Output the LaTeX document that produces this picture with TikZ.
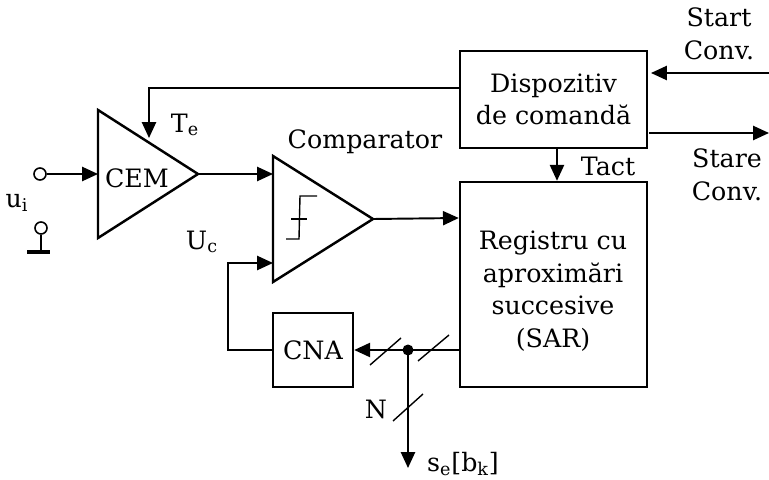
\documentclass[tikz,border=0pt]{standalone}
\usepackage{fontspec}
\setmainfont{DejaVu Serif}
\usetikzlibrary{arrows.meta,calc}

\begin{document}
\begin{tikzpicture}[x=0.02cm,y=-0.02cm,line cap=butt]
  % Styles
  \tikzset{
    block/.style={draw,line width=1.4pt,inner sep=0pt,align=center,font=\fontsize{14.4}{18.5}\selectfont},
    amp/.style={line width=1.4pt,line join=miter},
    sig/.style={line width=1.1pt,-{Triangle[length=9pt,width=8pt]}},
    wire/.style={line width=1.1pt},
    bus/.style={line width=0.8pt},
    label/.style={inner sep=0pt,align=center,font=\fontsize{14.4}{18.5}\selectfont}
  }
  \useasboundingbox (0,0) rectangle (769,480);

  % Blocks
  \node[block,minimum width=3.74cm,minimum height=1.94cm] (disp) at (553.5,99.5) {Dispozitiv\\de comandă};
  \node[block,minimum width=3.74cm,minimum height=4.1cm] (sar) at (553.5,284.5) {};
  \node[label] (sartext) at (553,291) {Registru cu\\aproximări\\succesive\\(SAR)};
  \node[block,minimum width=1.6cm,minimum height=1.48cm] (cna) at (313,350) {CNA};

  % Amplifier and comparator
  \coordinate (cemin) at (98,174);
  \coordinate (cemtip) at (198,174);
  \coordinate (cemtop) at (149,138);
  \coordinate (compin) at (273,174);
  \coordinate (compfb) at (273,263);
  \coordinate (comptip) at (373,219);
  \draw[amp] (98,110) -- (cemtip) -- (98,238) -- cycle;
  \draw[amp] (273,156) -- (comptip) -- (273,282) -- cycle;
  \node[label] (cem) at (137,178) {CEM};

  % Comparator symbol
  \draw[bus] (317,196) -- (300,196) -- (299,239) -- (286,239);
  \draw[bus] (291,219) -- (307,219);

  % Input terminals
  \node[draw,circle,line width=0.9pt,minimum size=0.24cm,inner sep=0pt] (uihi) at (40,174) {};
  \node[draw,circle,line width=0.9pt,minimum size=0.24cm,inner sep=0pt] (uilo) at (41,228) {};
  \coordinate (gnd) at (41,252);
  \draw[wire] (uilo) -- (gnd);
  \draw[line width=2.2pt] (27,252) -- (50,252);

  % Signal paths
  \draw[sig] (uihi) -- (cemin);
  \draw[sig] (cemtip) -- (compin);
  \draw[sig] (comptip) -- (sar.west |- 0,218);
  \draw[sig] (disp.west |- 0,88) -| (cemtop);
  \draw[sig] (disp.south -| 557,0) -- (sar.north -| 557,0);
  \draw[sig] (cna.west) -- (228,350) |- (compfb);
  \coordinate (startin) at (769,73);
  \coordinate (startout) at (651,73);
  \coordinate (stareout) at (769,133);
  \draw[sig] (startin) -- (startout);
  \draw[sig] (649,133) -- (stareout);

  % Data bus
  \coordinate (busdot) at (408,350);
  \coordinate (busout) at (408,468);
  \draw[sig] (sar.west |- busdot) -- (cna.east);
  \draw[sig] (busdot) -- (busout);
  \fill (busdot) circle (0.11cm);
  \draw[bus] (370,365) -- (401,338);
  \draw[bus] (418,361) -- (449,335);
  \draw[bus] (393,421) -- (423,394);

  % Labels
  \node[label] (start) at (719,34) {Start\\Conv.};
  \node[label] (stare) at (727,175) {Stare\\Conv.};
  \node[label] (tact) at (608,166) {Tact};
  \node[label] (comp) at (365,142) {Comparator};
  \node[label] (te) at (185,125) {T\textsubscript{e}};
  \node[label] (uc) at (202,242) {U\textsubscript{c}};
  \node[label] (ui) at (17,203) {u\textsubscript{i}};
  \node[label] (nbits) at (376,409) {N};
  \node[label] (se) at (463,464) {s\textsubscript{e}[b\textsubscript{k}]};
\end{tikzpicture}
\end{document}
